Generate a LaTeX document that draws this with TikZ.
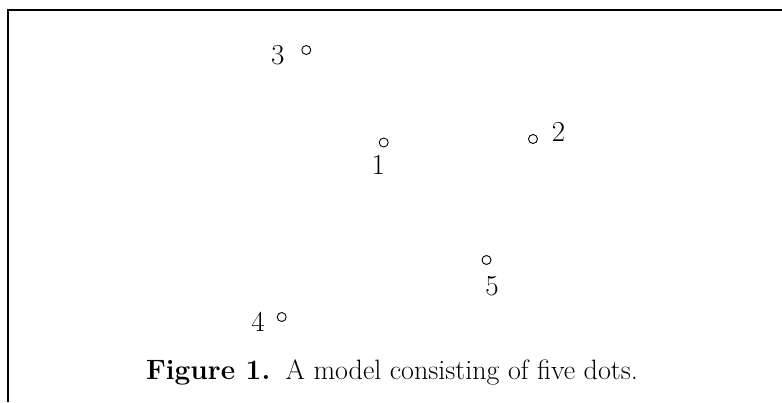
\documentclass[tikz,border=0pt]{standalone}
\begin{document}
\begin{tikzpicture}[x=1pt,y=-1pt,
  dotc/.style={circle,draw,line width=0.9pt,inner sep=0pt,minimum size=9pt},
  num/.style={anchor=base,inner sep=0pt,font=\fontsize{29}{32}\selectfont},
  frameline/.style={line width=2pt}]
\useasboundingbox (0,0) rectangle (782,402);
\coordinate (tl) at (8,10);
\coordinate (tr) at (782,10);
\coordinate (bl) at (8,402);
\draw[frameline] (bl) -- (tl) -- (tr);
\node[dotc] (d3) at (306.3,50) {};
\node[dotc] (d1) at (383.7,142.5) {};
\node[dotc] (d2) at (533,139) {};
\node[dotc] (d5) at (486.5,260) {};
\node[dotc] (d4) at (281.7,317) {};
\node[num] (l3) at (277.7,64.5) {3};
\node[num] (l1) at (378.3,174.3) {1};
\node[num] (l2) at (558.5,141) {2};
\node[num] (l5) at (492,295) {5};
\node[num] (l4) at (258,331.7) {4};
\node[anchor=base,inner sep=0pt,font=\fontsize{28}{32}\selectfont] (cap) at (392,379)
  {\textbf{Figure 1.}\hspace{0.55em}A model consisting of five dots.};
\end{tikzpicture}
\end{document}
